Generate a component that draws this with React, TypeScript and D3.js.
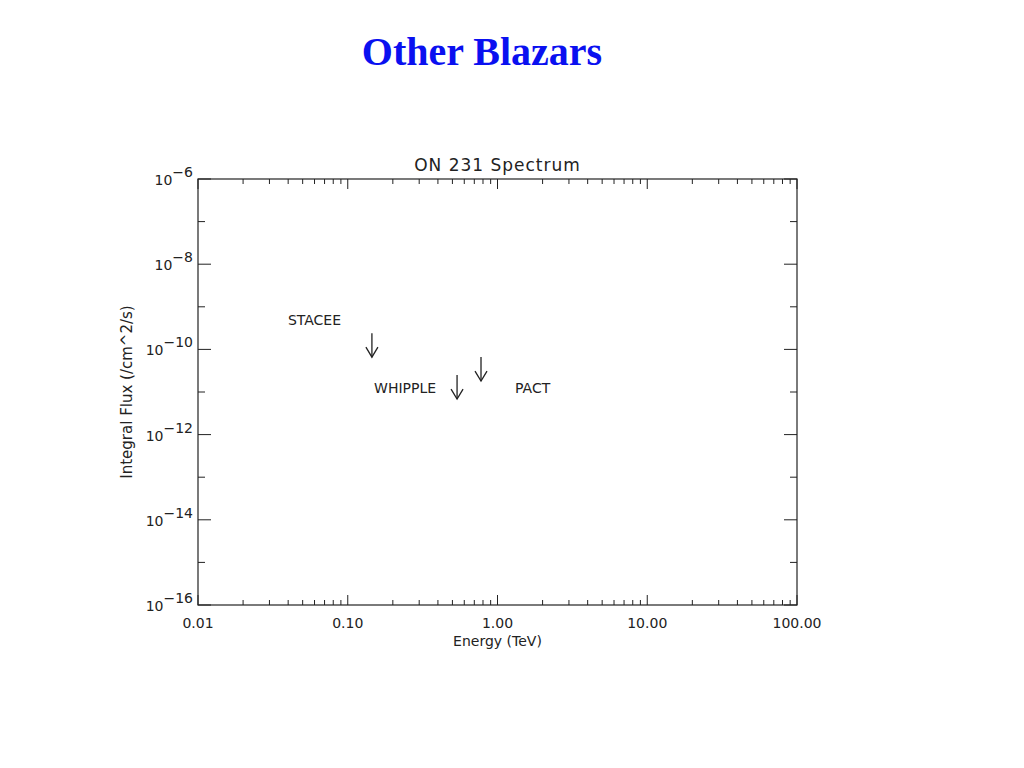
import React from "react";
import * as d3 from "d3";

const experiments = ["STACEE", "WHIPPLE", "PACT"];
const energiesTeV = [0.145, 0.537, 0.776];
const fluxLimits = [2.4e-10, 2.5e-11, 6.6e-11];
const xTickValues = [0.01, 0.1, 1, 10, 100];
const xTickLabels = ["0.01", "0.10", "1.00", "10.00", "100.00"];
const yDecades = [-16, -15, -14, -13, -12, -11, -10, -9, -8, -7, -6];
const yLabelExponents = ["-16", "-14", "-12", "-10", "-8", "-6"];
// label offsets (relative to arrow position) in px
const labelDx = [-84, -83, 34];
const labelDy = [-8, 18, 36];

const W = 1024, H = 768;
const L = 198, R = 797, T = 179, B = 605;

export default function App() {
  const x = d3.scaleLog().domain([0.01, 100]).range([L, R]);
  const y = d3.scaleLog().domain([1e-16, 1e-6]).range([B, T]);
  const font = "'DejaVu Sans', sans-serif";
  const ink = "#222";

  const minorX: number[] = [];
  for (let d = -2; d < 2; d++) {
    for (let m = 2; m <= 9; m++) minorX.push(m * Math.pow(10, d));
  }

  const arrowLen = 24;
  return (
    <svg width={W} height={H} style={{ position: "absolute", left: 0, top: 0, background: "#fff" }}>
      <rect x={0} y={0} width={W} height={H} fill="#fff" />
      <text x={482} y={65} textAnchor="middle" fontFamily="'Liberation Serif', 'Times New Roman', serif" fontWeight="bold" fontSize={40} fill="#0a10f0">Other Blazars</text>
      <text x={(L + R) / 2} y={171} textAnchor="middle" fontFamily={font} fontSize={17} letterSpacing={1} fill={ink}>ON 231 Spectrum</text>
      <rect x={L} y={T} width={R - L} height={B - T} fill="none" stroke={ink} strokeWidth={1.2} />
      {/* x ticks */}
      {xTickValues.map((v) => (
        <g key={"xm" + v}>
          <line x1={x(v)} x2={x(v)} y1={B} y2={B - 10} stroke={ink} />
          <line x1={x(v)} x2={x(v)} y1={T} y2={T + 10} stroke={ink} />
        </g>
      ))}
      {minorX.map((v) => (
        <g key={"xn" + v}>
          <line x1={x(v)} x2={x(v)} y1={B} y2={B - 5} stroke={ink} />
          <line x1={x(v)} x2={x(v)} y1={T} y2={T + 5} stroke={ink} />
        </g>
      ))}
      {xTickValues.map((v, i) => (
        <text key={"xl" + v} x={x(v)} y={628} textAnchor="middle" fontFamily={font} fontSize={14} fill={ink}>{xTickLabels[i]}</text>
      ))}
      <text x={(L + R) / 2} y={646} textAnchor="middle" fontFamily={font} fontSize={14} fill={ink}>Energy (TeV)</text>
      {/* y ticks */}
      {yDecades.map((e) => {
        const major = e % 2 === 0;
        const len = major ? 13 : 7;
        const yy = y(Math.pow(10, e));
        return (
          <g key={"y" + e}>
            <line x1={L} x2={L + len} y1={yy} y2={yy} stroke={ink} />
            <line x1={R} x2={R - len} y1={yy} y2={yy} stroke={ink} />
          </g>
        );
      })}
      {yLabelExponents.map((s) => {
        const yy = y(Math.pow(10, +s));
        return (
          <text key={"yl" + s} x={193} y={yy + 6} textAnchor="end" fontFamily={font} fontSize={14} fill={ink}>
            10<tspan dy={-8} fontSize={14}>{"\u2212" + s.slice(1)}</tspan>
          </text>
        );
      })}
      <text transform={`translate(132,${(T + B) / 2}) rotate(-90)`} textAnchor="middle" fontFamily={font} fontSize={15} fill={ink}>Integral Flux  (/cm^2/s)</text>
      {/* upper limits */}
      {experiments.map((name, i) => {
        const ax = x(energiesTeV[i]);
        const ay = y(fluxLimits[i]);
        return (
          <g key={name}>
            <line x1={ax} x2={ax} y1={ay} y2={ay + arrowLen} stroke={ink} strokeWidth={1.3} />
            <path d={`M${ax - 6},${ay + arrowLen - 10} L${ax},${ay + arrowLen} L${ax + 6},${ay + arrowLen - 10}`} fill="none" stroke={ink} strokeWidth={1.3} />
            <text x={ax + labelDx[i]} y={ay + labelDy[i]} fontFamily={font} fontSize={14} fill={ink}>{name}</text>
          </g>
        );
      })}
    </svg>
  );
}
